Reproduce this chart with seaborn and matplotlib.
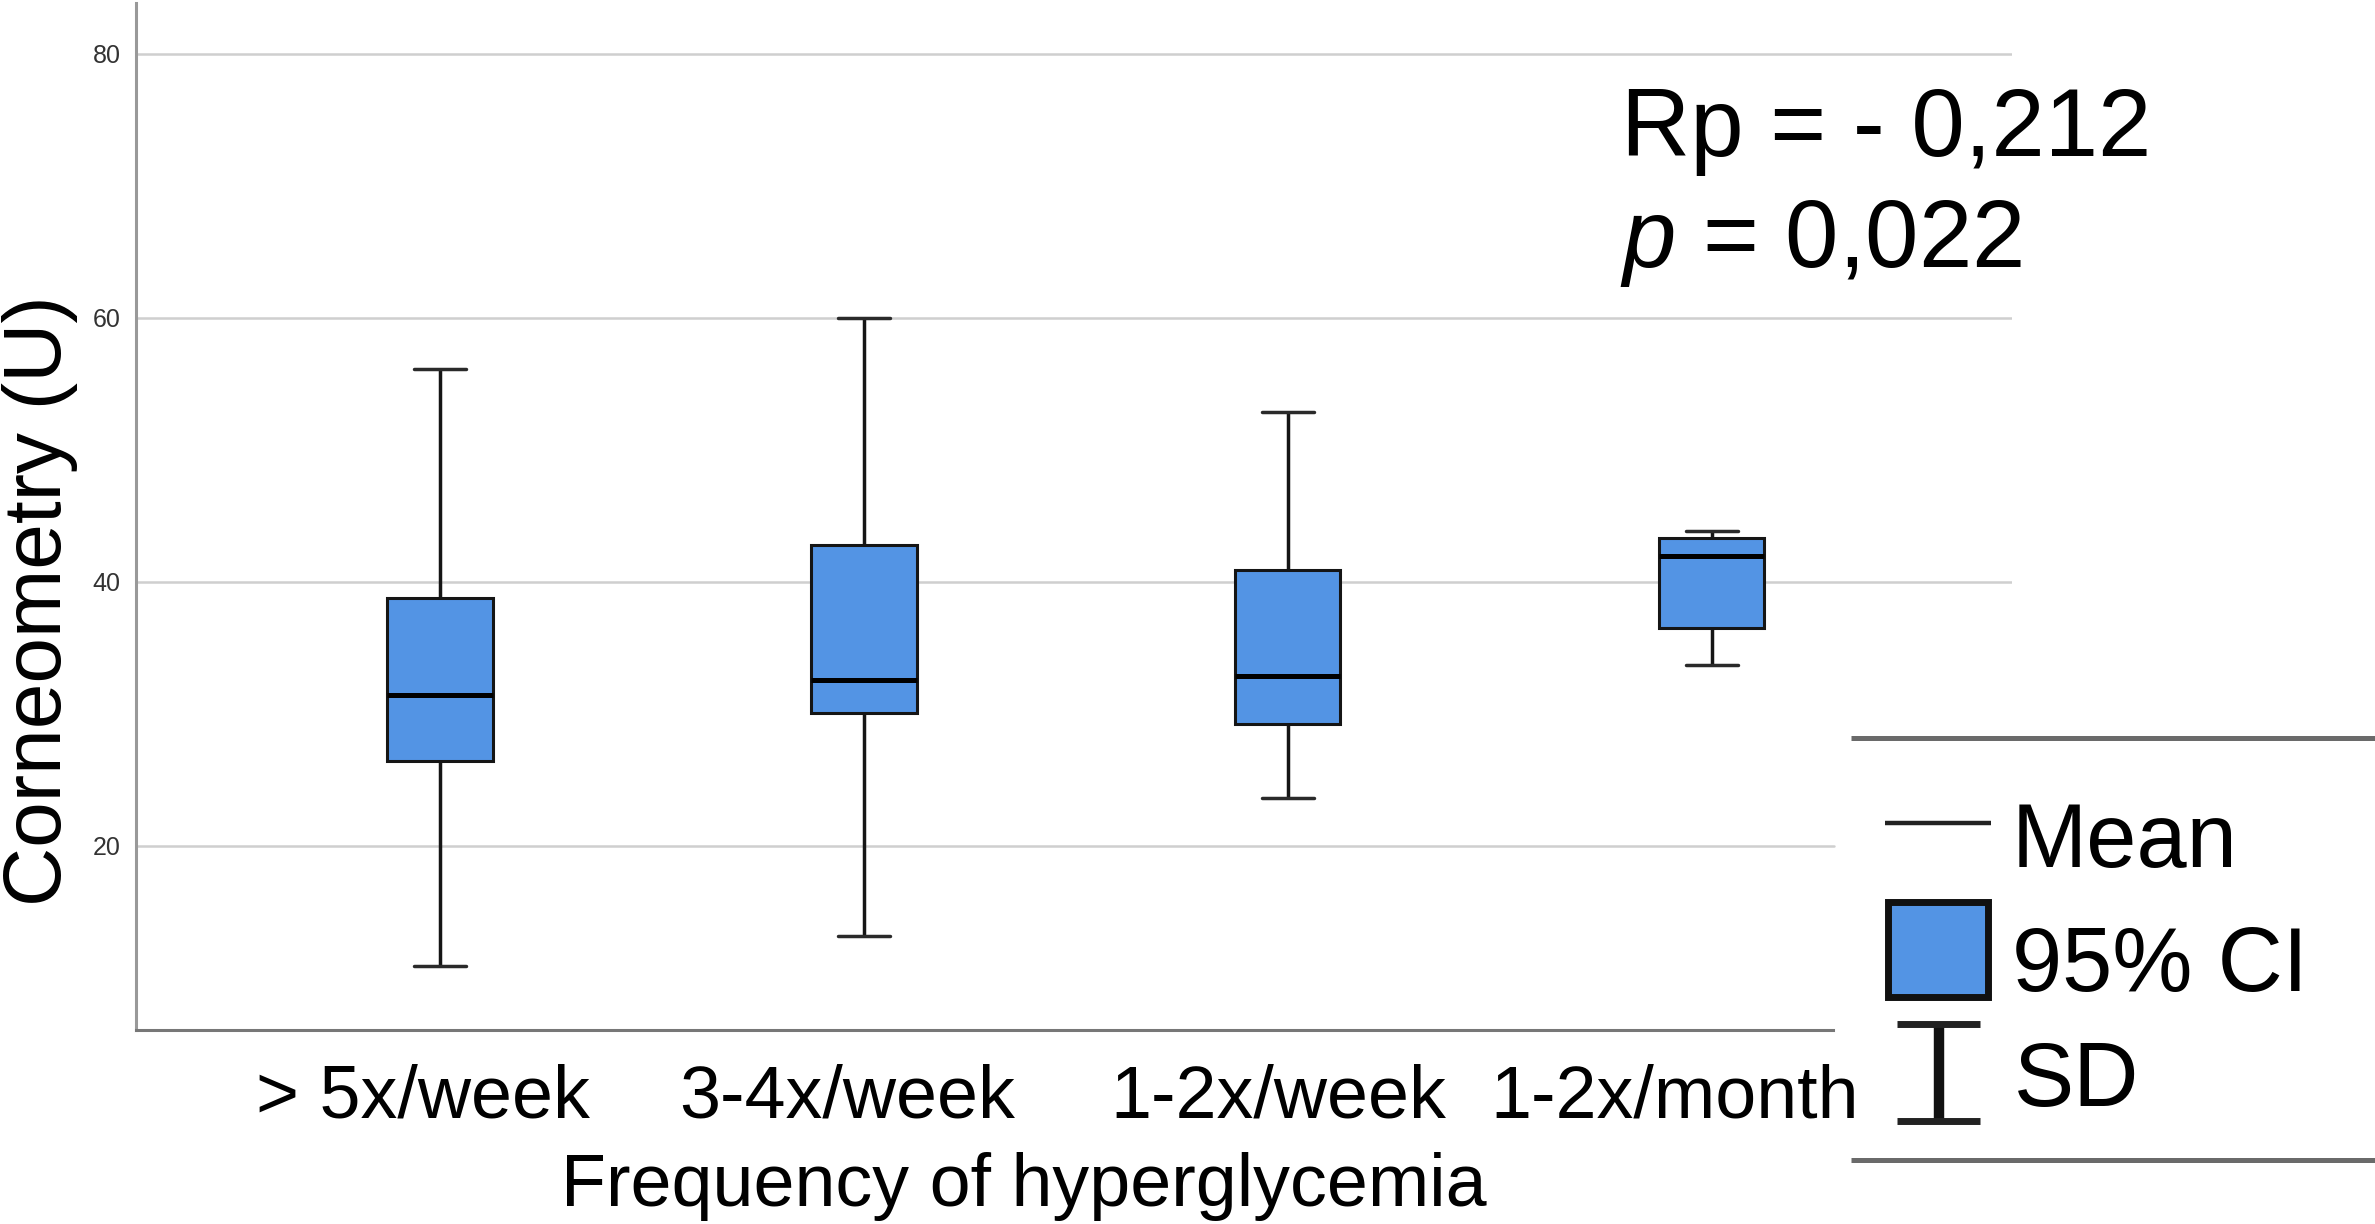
import pandas as pd
import seaborn as sns
import matplotlib.pyplot as plt
from matplotlib.patches import Rectangle
from matplotlib.transforms import ScaledTranslation

# Valores (corneometria por frequência de hiperglicemia)
categorias = ["> 5x/week", "3-4x/week", "1-2x/week", "1-2x/month"]
media = [31.45, 32.6, 32.9, 41.95]
ic95_inf = [26.45, 30.1, 29.25, 36.5]
ic95_sup = [38.8, 42.8, 40.9, 43.3]
dp_inf = [10.9, 13.2, 23.65, 33.7]
dp_sup = [56.1, 60.0, 52.9, 43.85]
marcas_y = [20, 40, 60, 80]

# Tabela longa: com 5 valores por grupo, Q1/Q3 caem no IC 95%,
# a mediana na média e os bigodes (0-100%) nos limites do DP
linhas = []
for i, cat in enumerate(categorias):
    for v in [dp_inf[i], ic95_inf[i], media[i], ic95_sup[i], dp_sup[i]]:
        linhas.append({"frequencia": cat, "corneometria": v})
df = pd.DataFrame(linhas)

sns.set_style("white")
plt.rcParams["font.family"] = ["Liberation Sans", "DejaVu Sans"]
plt.rcParams["text.color"] = "black"
plt.rcParams["axes.labelcolor"] = "black"
plt.rcParams["mathtext.fontset"] = "custom"
plt.rcParams["mathtext.it"] = "Liberation Sans:italic"
plt.rcParams["mathtext.rm"] = "Liberation Sans"

azul = "#5394E4"
L, A = 2375, 1224
fig = plt.figure(figsize=(L / 100, A / 100), dpi=100)
ax = fig.add_axes([136 / L, 1 - 1030 / A, (2012 - 136) / L, (1030 - 3) / A])

sns.boxplot(data=df, x="frequencia", y="corneometria", order=categorias,
            whis=(0, 100), width=0.248, color=azul, saturation=1,
            linecolor="#151515", linewidth=2.2, showfliers=False,
            medianprops=dict(color="black", linewidth=3.6),
            whiskerprops=dict(color="#151515", linewidth=2.5),
            capprops=dict(color="#2a2a2a", linewidth=2.5),
            ax=ax)

ax.set_xlim(-0.717, 3.708)
ax.set_ylim(6.06, 83.86)
ax.set_yticks(marcas_y)

# Grade: as linhas abaixo do topo da legenda param onde a caixa da legenda começa
topo_legenda = 28.9
fim_x_legenda = 0.905
for v in marcas_y:
    ax.axhline(v, xmax=fim_x_legenda if v < topo_legenda else 1,
               color="#cfcfcf", linewidth=1.8, zorder=0)

sns.despine(ax=ax, top=True, right=True)
ax.spines["left"].set_color("#999999")
ax.spines["left"].set_linewidth(2.2)
ax.spines["bottom"].set_color("#777777")
ax.spines["bottom"].set_linewidth(2.2)
ax.spines["bottom"].set_bounds(-0.717, 3.285)

ax.tick_params(axis="x", length=0, pad=24, labelsize=53, labelcolor="black")
ax.tick_params(axis="y", length=0, pad=11, labelsize=18, labelcolor="#333333")

# Rótulos do eixo x levemente deslocados à esquerda, como no original
deslocamentos = [-17, -17, -10, -37]
for rotulo, dx in zip(ax.get_xticklabels(), deslocamentos):
    rotulo.set_transform(rotulo.get_transform() + ScaledTranslation(dx / 100, 0, fig.dpi_scale_trans))

ax.set_xlabel("Frequency of hyperglycemia", fontsize=53)
ax.xaxis.set_label_coords(0.4733, -0.119)
ax.set_ylabel("Corneometry (U)", fontsize=59)
ax.yaxis.set_label_coords(-0.031, 0.418)

# Estatísticas no canto superior direito
fig.text(1621 / L, 1 - 156 / A, "Rp = - 0,212", fontsize=69, va="baseline", ha="left")
fig.text(1620 / L, 1 - 267 / A, "$p$ = 0,022", fontsize=69, va="baseline", ha="left")

# Legenda desenhada à parte, em coordenadas de pixel
ax_leg = fig.add_axes([1834 / L, 1 - 1172 / A, (L - 1834) / L, (1172 - 728) / A])
ax_leg.set_xlim(1834, L)
ax_leg.set_ylim(1172, 728)
ax_leg.set_xticks([])
ax_leg.set_yticks([])
for s in ax_leg.spines.values():
    s.set_visible(False)
ax_leg.patch.set_visible(False)

ax_leg.plot([1851, L], [738, 738], color="#6a6a6a", lw=3.6, solid_capstyle="butt")
ax_leg.plot([1851, L], [1160, 1160], color="#6a6a6a", lw=3.6, solid_capstyle="butt")
ax_leg.plot([1885, 1991], [823, 823], color="#222222", lw=3.2, solid_capstyle="butt")
ax_leg.add_patch(Rectangle((1888, 902), 100, 95, facecolor=azul, edgecolor="#111111", lw=5))
ax_leg.plot([1939, 1939], [1024, 1121], color="#111111", lw=7.5, solid_capstyle="butt")
ax_leg.plot([1897, 1980], [1024, 1024], color="#222222", lw=5, solid_capstyle="butt")
ax_leg.plot([1897, 1980], [1121, 1121], color="#222222", lw=5, solid_capstyle="butt")
ax_leg.text(2012, 867, "Mean", fontsize=65, va="baseline")
ax_leg.text(2012, 991, "95% CI", fontsize=65, va="baseline")
ax_leg.text(2014, 1106, "SD", fontsize=65, va="baseline")

fig.savefig("out.png", dpi=100)
